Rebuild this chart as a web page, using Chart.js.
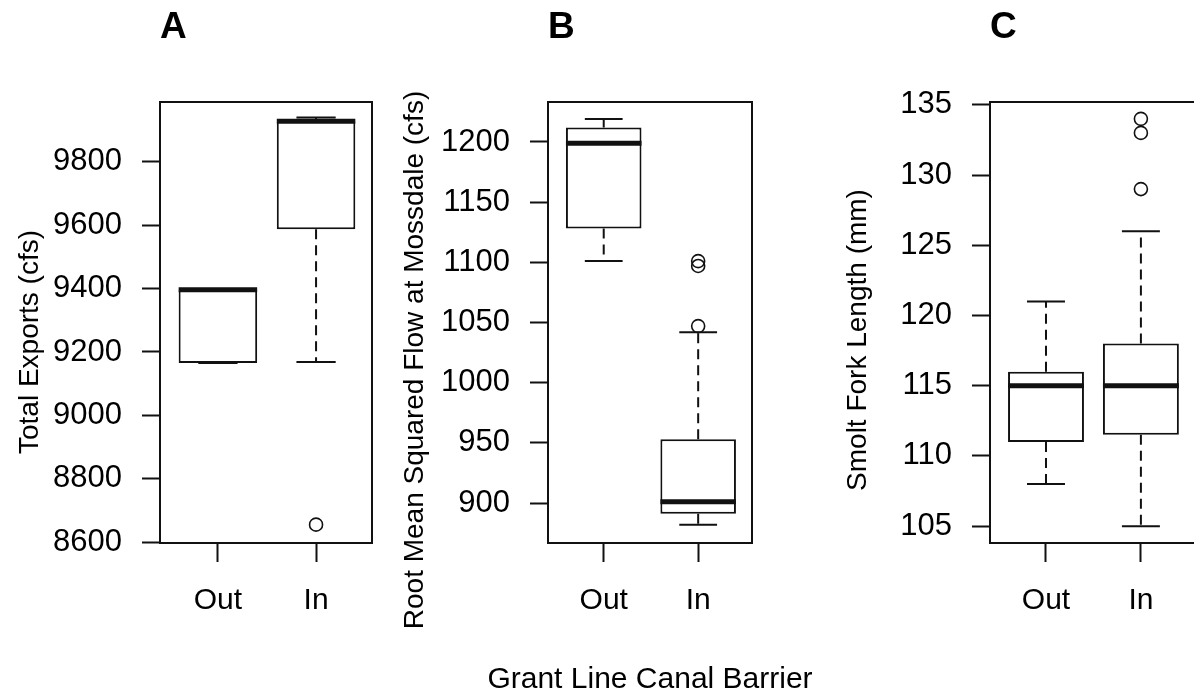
<!DOCTYPE html>
<html>
<head>
<meta charset="utf-8">
<script src="https://cdn.jsdelivr.net/npm/chart.js@4.4.0/dist/chart.umd.min.js"></script>
<style>
  html, body { margin: 0; padding: 0; background: #fff; overflow: hidden; width: 1194px; height: 694px; }
  canvas.panel { position: absolute; left: 0; top: 0; }
</style>
</head>
<body>
<canvas id="chartA" class="panel" width="1210" height="694"></canvas>
<canvas id="chartB" class="panel" width="1210" height="694"></canvas>
<canvas id="chartC" class="panel" width="1210" height="694"></canvas>
<script>
var groups = ['Out', 'In'];

// box stats: min, q1, median, q3, max
var exportsOut = [9165, 9165, 9396, 9396, 9396];
var exportsIn = [9168, 9587, 9928, 9930, 9940];
var exportsOutliers = [[], [8655]];
var exportsTicks = [8600, 8800, 9000, 9200, 9400, 9600, 9800];

var flowOut = [1101, 1128, 1199, 1212, 1219];
var flowIn = [882, 891, 901, 953, 1042];
var flowOutliers = [[], [1047, 1097, 1101]];
var flowTicks = [900, 950, 1000, 1050, 1100, 1150, 1200];

var lengthOut = [108, 111, 115, 116, 121];
var lengthIn = [105, 111.5, 115, 118, 126];
var lengthOutliers = [[], [129, 133, 134]];
var lengthTicks = [105, 110, 115, 120, 125, 130, 135];

var FONT = "'Liberation Sans', Arial, sans-serif";
var INK = '#111';

// whiskers, caps and medians on top of the floating bars
var boxLines = {
  id: 'boxLines',
  afterDatasetsDraw: function (chart, args, opts) {
    var ctx = chart.ctx, xs = chart.scales.x, ys = chart.scales.y;
    var bars = chart.getDatasetMeta(0).data;
    opts.stats.forEach(function (s, i) {
      var x = xs.getPixelForValue(i + 1);
      var w = bars[i].width;
      var py = function (v) { return ys.getPixelForValue(v); };
      ctx.save();
      ctx.strokeStyle = INK;
      ctx.lineWidth = 2;
      ctx.setLineDash([10, 6]);
      ctx.beginPath();
      if (s[4] > s[3]) { ctx.moveTo(x, py(s[3])); ctx.lineTo(x, py(s[4])); }
      if (s[0] < s[1]) { ctx.moveTo(x, py(s[1])); ctx.lineTo(x, py(s[0])); }
      ctx.stroke();
      ctx.setLineDash([]);
      ctx.beginPath();
      ctx.moveTo(x - w / 4, py(s[4])); ctx.lineTo(x + w / 4, py(s[4]));
      ctx.moveTo(x - w / 4, py(s[0])); ctx.lineTo(x + w / 4, py(s[0]));
      ctx.stroke();
      ctx.lineWidth = 5;
      ctx.beginPath();
      ctx.moveTo(x - w / 2, py(s[2])); ctx.lineTo(x + w / 2, py(s[2]));
      ctx.stroke();
      ctx.restore();
    });
  },
  afterDraw: function (chart, args, opts) {
    var a = chart.chartArea, ctx = chart.ctx;
    ctx.save();
    ctx.strokeStyle = INK;
    ctx.lineWidth = 2;
    ctx.strokeRect(a.left, a.top, a.right - a.left, a.bottom - a.top);
    ctx.fillStyle = '#000';
    ctx.textAlign = 'center';
    ctx.textBaseline = 'middle';
    ctx.font = '28px ' + FONT;
    ctx.save();
    ctx.translate(opts.yTitleX, opts.yTitleY);
    ctx.rotate(-Math.PI / 2);
    ctx.fillText(opts.yTitle, 0, 0);
    ctx.restore();
    if (opts.xTitle) {
      ctx.font = '30px ' + FONT;
      ctx.fillText(opts.xTitle, (a.left + a.right) / 2, 680);
    }
    ctx.restore();
  }
};

function makePanel(id, p) {
  var boxes = p.stats.map(function (s, i) { return { x: i + 1, y: [s[1], s[3]] }; });
  var outs = [];
  p.outliers.forEach(function (list, i) {
    list.forEach(function (v) { outs.push({ x: i + 1, y: v }); });
  });
  var W = 1210, H = 694;
  return new Chart(document.getElementById(id), {
    type: 'bar',
    data: {
      datasets: [{
        data: boxes,
        backgroundColor: '#fff',
        borderColor: INK,
        borderWidth: 2,
        borderSkipped: false,
        categoryPercentage: 0.8,
        barPercentage: 1
      }, {
        type: 'scatter',
        data: outs,
        pointStyle: 'circle',
        pointRadius: 6.5,
        borderWidth: 1.6,
        borderColor: INK,
        backgroundColor: 'rgba(0,0,0,0)'
      }]
    },
    options: {
      responsive: false,
      animation: false,
      events: [],
      layout: {
        padding: { left: p.titleX - 14, right: W - p.right, top: 0, bottom: H - p.bottom - 100 }
      },
      plugins: {
        legend: { display: false },
        tooltip: { enabled: false },
        title: {
          display: true,
          text: p.letter,
          align: 'start',
          fullSize: false,
          color: '#000',
          font: { family: FONT, size: 37, weight: 'bold', lineHeight: 1 },
          padding: { top: 9, bottom: p.top - 9 - 37 }
        },
        boxLines: { stats: p.stats, xTitle: p.xTitle, yTitle: p.yTitle, yTitleX: p.titleX, yTitleY: p.titleY }
      },
      scales: {
        x: {
          type: 'linear',
          min: 0.41,
          max: 2.57,
          offset: false,
          afterBuildTicks: function (axis) { axis.ticks = [{ value: 1 }, { value: 2 }]; },
          afterFit: function (axis) { axis.height = 100; },
          ticks: {
            color: '#000',
            padding: 21,
            font: { family: FONT, size: 30 },
            callback: function (v) { return groups[v - 1]; }
          },
          grid: { offset: false, drawOnChartArea: false, tickLength: 19, tickColor: INK, tickWidth: 2 },
          border: { display: true, color: INK, width: 2 }
        },
        y: {
          type: 'linear',
          min: p.yMin,
          max: p.yMax,
          afterBuildTicks: function (axis) { axis.ticks = p.ticks.map(function (v) { return { value: v }; }); },
          afterFit: function (axis) { axis.width = p.left - (p.titleX - 14); },
          ticks: {
            color: '#000',
            padding: 20,
            font: { family: FONT, size: 31 },
            callback: function (v) { return String(v); }
          },
          grid: { drawOnChartArea: false, tickLength: 18, tickColor: INK, tickWidth: 2 },
          border: { display: true, color: INK, width: 2 }
        }
      }
    },
    plugins: [boxLines]
  });
}

makePanel('chartA', {
  letter: 'A', yTitle: 'Total Exports (cfs)', titleX: 30, titleY: 342,
  left: 160, right: 372, top: 102, bottom: 543,
  yMin: 8597, yMax: 9989, ticks: exportsTicks,
  stats: [exportsOut, exportsIn], outliers: exportsOutliers
});

makePanel('chartB', {
  letter: 'B', yTitle: 'Root Mean Squared Flow at Mossdale (cfs)', titleX: 415, titleY: 360,
  left: 548, right: 752, top: 102, bottom: 543,
  yMin: 866.8, yMax: 1233.2, ticks: flowTicks,
  stats: [flowOut, flowIn], outliers: flowOutliers,
  xTitle: 'Grant Line Canal Barrier'
});

makePanel('chartC', {
  letter: 'C', yTitle: 'Smolt Fork Length (mm)', titleX: 858, titleY: 340,
  left: 990, right: 1195, top: 102, bottom: 543,
  yMin: 103.8, yMax: 135.2, ticks: lengthTicks,
  stats: [lengthOut, lengthIn], outliers: lengthOutliers
});
</script>
</body>
</html>
